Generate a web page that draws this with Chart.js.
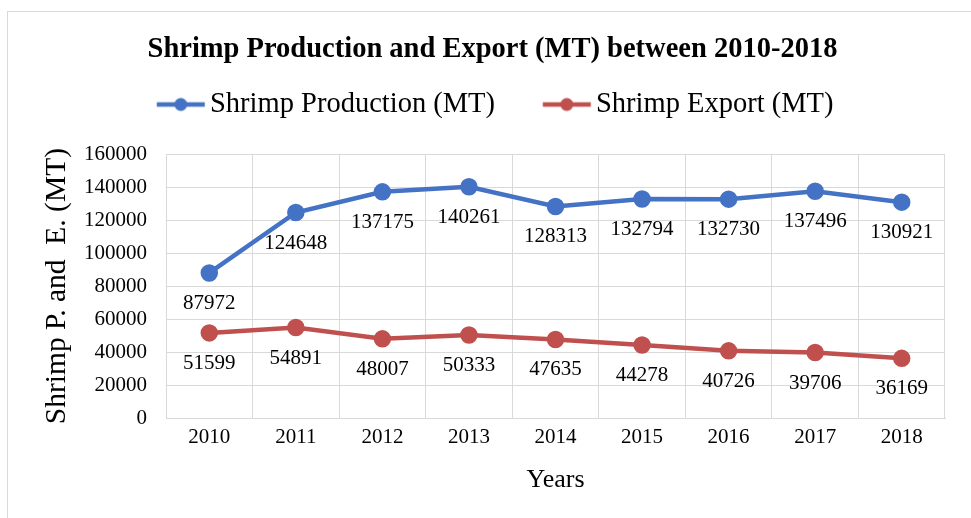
<!DOCTYPE html>
<html>
<head>
<meta charset="utf-8">
<script src="https://cdn.jsdelivr.net/npm/chart.js@4/dist/chart.umd.min.js"></script>
<style>
  html, body { margin: 0; padding: 0; background: #fff; overflow: hidden; }
  #frame { position: absolute; left: 7px; top: 11px; width: 1000px; height: 600px; border: 1px solid #d9d9d9; }
  #wrap { position: absolute; left: 0; top: 0; width: 971px; height: 518px; }
</style>
</head>
<body>
<div id="frame"></div>
<div id="wrap"><canvas id="myChart" width="971" height="518"></canvas></div>
<script>
var years = ["2010", "2011", "2012", "2013", "2014", "2015", "2016", "2017", "2018"];
var production = [87972, 124648, 137175, 140261, 128313, 132794, 132730, 137496, 130921];
var exports = [51599, 54891, 48007, 50333, 47635, 44278, 40726, 39706, 36169];
var yTicks = [0, 20000, 40000, 60000, 80000, 100000, 120000, 140000, 160000];

var blue = "#4472C4";
var red = "#C0504D";
var serif = "'Liberation Serif', 'Times New Roman', serif";

var legendFont = 28.5;
var legendBox = 44.25;

// legend marker: short line with a dot, sitting just left of the label text
function lineDot(color) {
    var c = document.createElement("canvas");
    c.width = 110;
    c.height = 16;
    var cx = c.width / 2 + legendBox / 2 - 15;
    var g = c.getContext("2d");
    g.strokeStyle = color;
    g.lineWidth = 4.5;
    g.beginPath();
    g.moveTo(cx - 24, 8);
    g.lineTo(cx + 24, 8);
    g.stroke();
    g.fillStyle = color;
    g.beginPath();
    g.arc(cx, 8, 6.5, 0, Math.PI * 2);
    g.fill();
    return c;
}
var markers = [lineDot(blue), lineDot(red)];

// value under each point
var valueLabels = {
    id: "valueLabels",
    afterDatasetsDraw: function (chart) {
        var ctx = chart.ctx;
        ctx.save();
        ctx.font = "21px " + serif;
        ctx.fillStyle = "#000";
        ctx.textAlign = "center";
        ctx.textBaseline = "middle";
        chart.data.datasets.forEach(function (ds, i) {
            chart.getDatasetMeta(i).data.forEach(function (pt, j) {
                ctx.fillText(String(ds.data[j]), pt.x, pt.y + 30.5);
            });
        });
        ctx.restore();
    }
};

new Chart("myChart", {
    type: "line",
    data: {
        labels: years,
        datasets: [{
            label: "Shrimp Production (MT)",
            data: production,
            borderColor: blue,
            backgroundColor: blue,
            borderWidth: 4.5,
            pointRadius: 6.5,
            pointHoverRadius: 6.5,
            tension: 0
        }, {
            label: "Shrimp Export (MT)",
            data: exports,
            borderColor: red,
            backgroundColor: red,
            borderWidth: 4.5,
            pointRadius: 6.5,
            pointHoverRadius: 6.5,
            tension: 0
        }]
    },
    options: {
        responsive: false,
        animation: false,
        layout: { padding: { left: 14, right: 0, top: 0, bottom: 0 } },
        plugins: {
            title: {
                display: true,
                text: "Shrimp Production and Export (MT) between 2010-2018",
                color: "#000",
                font: { family: serif, size: 28.5, weight: "bold" },
                padding: { top: 33, bottom: -19.5 }
            },
            legend: {
                display: true,
                labels: {
                    color: "#000",
                    font: { family: serif, size: legendFont },
                    usePointStyle: true,
                    pointStyleWidth: legendBox,
                    padding: 42.5,
                    generateLabels: function (chart) {
                        var items = Chart.defaults.plugins.legend.labels.generateLabels(chart);
                        items.forEach(function (it, i) { it.pointStyle = markers[i]; });
                        return items;
                    }
                }
            },
            tooltip: { enabled: false }
        },
        scales: {
            x: {
                offset: true,
                grid: { color: "#d9d9d9", offset: true, drawTicks: false },
                border: { color: "#d9d9d9" },
                ticks: { color: "#000", font: { family: serif, size: 21 }, padding: 7 },
                title: {
                    display: true,
                    text: "Years",
                    color: "#000",
                    font: { family: serif, size: 26 },
                    padding: { top: 0, bottom: 22 }
                },
                afterFit: function (s) { s.height = 100; }
            },
            xTop: {
                type: "category",
                position: "top",
                labels: years,
                grid: { display: false },
                border: { display: false },
                ticks: { display: false },
                afterFit: function (s) { s.height = 25.5; }
            },
            y: {
                min: yTicks[0],
                max: yTicks[yTicks.length - 1],
                afterBuildTicks: function (s) {
                    s.ticks = yTicks.map(function (v) { return { value: v }; });
                },
                grid: { color: "#d9d9d9", drawTicks: false },
                border: { color: "#d9d9d9" },
                ticks: {
                    color: "#000",
                    font: { family: serif, size: 21 },
                    padding: 19,
                    callback: function (v) { return String(v); }
                },
                title: {
                    display: true,
                    text: "Shrimp P. and  E. (MT)",
                    color: "#000",
                    font: { family: serif, size: 29.5 },
                    padding: { top: 26, bottom: 0 }
                },
                afterFit: function (s) { s.width = 152; }
            },
            yRight: {
                position: "right",
                grid: { display: false },
                border: { display: false },
                ticks: { display: false },
                afterFit: function (s) { s.width = 26; }
            }
        }
    },
    plugins: [valueLabels]
});
</script>
</body>
</html>
